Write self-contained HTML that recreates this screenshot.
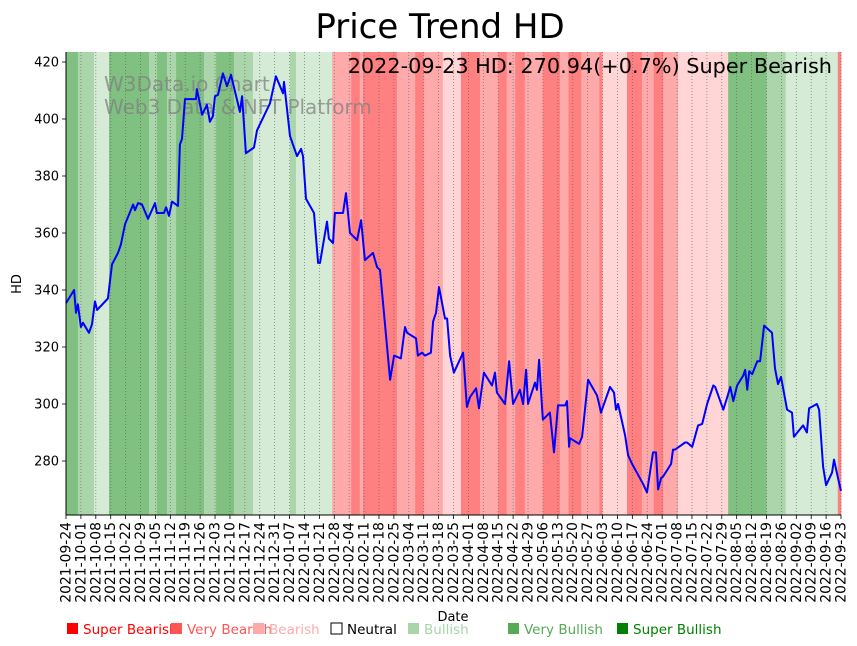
<!DOCTYPE html>
<html><head><meta charset="utf-8"><style>
body{margin:0;background:#fff;}
svg{display:block;font-family:"DejaVu Sans","Liberation Sans",sans-serif;}
</style></head><body>
<svg id="chart" width="857" height="646" viewBox="0 0 857 646" xmlns="http://www.w3.org/2000/svg">
<g id="bands"></g>
<g id="grid"></g>
<text x="104" y="91" font-size="20" fill="#808080" fill-opacity="0.75">W3Data.io Chart</text>
<text x="104" y="114" font-size="20" fill="#808080" fill-opacity="0.75">Web3 Data &amp; NFT Platform</text>
<path id="line" fill="none" stroke="#0000ff" stroke-width="2" stroke-linejoin="round"/>
<g id="axes"></g>
<text x="440" y="38" font-size="34" text-anchor="middle">Price Trend HD</text>
<text x="832" y="73" font-size="20.8" text-anchor="end">2022-09-23 HD: 270.94(+0.7%) Super Bearish</text>
<text x="21" y="284" font-size="13" text-anchor="middle" transform="rotate(-90 21 284)">HD</text>
<text x="453" y="621" font-size="13" text-anchor="middle">Date</text>
<g id="legend"></g>
</svg>
<script>
const bandStarts=[0,5.6,13.2,20.2,39,42.7,47.4,51.7,64.8,70.5,78.9,87.8,105.2,108,125,134,138,139.5,155.5,164,168,177,185.5,194.5,203,207,211,215.5,224,232,236,242,250.5,252,263.5,270.5,276,280.5,287.5,311,329,338,362.5];
const bandEnds=[5.6,13.2,20.2,39,42.7,47.4,51.7,64.8,70.5,78.9,87.8,105.2,108,125,134,138,139.5,155.5,164,168,177,185.5,194.5,203,207,211,215.5,224,232,236,242,250.5,252,263.5,270.5,276,280.5,287.5,311,329,338,362.5,364];
const bandCats=["VB","B","L","VB","B","VB","B","VB","B","VB","B","L","B","L","Br","VBr","Br","VBr","Br","VBr","Br","LR","VBr","Br","VBr","Br","VBr","Br","VBr","Br","VBr","Br","VBr","LR","VBr","Br","VBr","Br","LR","VB","B","L","VBr"];
const days=[0,3.8,4.7,5.6,7,8,10.8,12.2,13.6,14.6,19.7,21.6,24.4,25.8,27.7,31.5,32.4,33.8,35.7,38.5,41.8,42.7,46,47,48.4,49.8,52.6,53.5,54.5,55.9,61,61.5,63.9,66.2,67.6,69,70,71.4,73.7,75.6,77.5,81.7,82.7,84.5,88.3,89.7,95.8,98.6,101.9,102.4,105.2,108.5,110.4,111.3,112.7,116.5,118.4,119.3,122.6,123.5,125.4,126.3,130.1,131.5,133.4,136.7,138.6,140.4,144.2,146.1,147.5,152.2,154.1,157.3,159.2,160.2,164.4,165.3,167.2,168.6,171.4,172.4,173.8,175.2,178,179,180.4,182.2,186.5,188.3,189.8,192.6,194,196.3,200.1,201.5,202.4,206.2,208.1,210,213.2,214.7,216.1,217,220.3,221.2,222.2,223.6,224,227.3,229.2,231.1,234.4,235.3,236.3,236.7,241,242.4,245.2,249.4,250.4,251.3,255.5,257.4,258.3,259.3,262.6,264,265.9,271,272.9,275.7,277.1,278.1,279.5,280.4,284.2,285.1,286.1,290.8,291.7,294.1,296.9,298.8,301.1,304,304.9,308.7,310.6,312,313.4,315.2,318.1,319,320,320.9,322.3,324.7,326,327.9,331.6,333,334.4,335.8,338.7,341,341.9,346.2,348,349,352.7,353.7,355.6,357,359.8,360.7,362.6,364];
const prices=[335.4,340,332,335,327,328.5,325,328,336,333,337,349,353,356,363,370,368,370.5,370,365,370.5,367,367,369,366,371,369.5,391,393,407,407,410.5,401.5,405,399,401,408,408.5,416,411.5,415.5,402.5,408,388,390,396,405.5,415,409,413,394,387,389.5,387,372,367,349.5,349.5,364,358,356.5,367,367,374,360,357.5,364.5,350.5,353,348,347,308.5,317,316,327,325,323,317,318,317,318,329,332,341,330,330,317,311,318,299,302.5,305.5,298.5,311,306.5,311,304,300,315,300,305,300,312,300,307.5,305,315.5,298.5,294.5,297,283,299.5,299.5,301,285,288,286,288.5,308.5,303,300,297,306,304,298,300,289,282,279,272,269,283,283,270,274,274.5,279,284,284,286.5,286.5,285,292.5,293,300,306.5,306,298,302.5,306,301,306.5,310,312,305,311.5,310.5,315,315,327.5,325,312.5,307,309.5,298,297,288.5,292.5,290,298.5,300,298,278,271.5,276,280.5,274,269.5,271];
const yTicks=[280,300,320,340,360,380,400,420];
const startDate=new Date(Date.UTC(2021,8,24));

const NS="http://www.w3.org/2000/svg";
const X0=66,X1=841,Y0=52,Y1=515;
const xS=d=>X0+d*(X1-X0)/364;
const yS=v=>461-(v-280)*2.85;
const colors={VB:"#80c080",B:"#abd5ab",L:"#d5ebd5",VBr:"#ff8080",Br:"#ffaaaa",LR:"#ffd5d5"};
function mk(tag,attrs,parent){const e=document.createElementNS(NS,tag);for(const k in attrs)e.setAttribute(k,attrs[k]);parent.appendChild(e);return e;}
const bands=document.getElementById('bands');
for(let i=0;i<bandStarts.length;i++){
  const r=mk('rect',{x:xS(bandStarts[i]),y:Y0,width:xS(bandEnds[i])-xS(bandStarts[i])+0.3,height:Y1-Y0,fill:colors[bandCats[i]]},bands);
  
  
}
const grid=document.getElementById('grid'),axes=document.getElementById('axes');
for(let w=0;w<=52;w++){
  const d=w*7,x=xS(d);
  const gl=mk('line',{x1:x,x2:x,y1:Y0,y2:Y1,stroke:"#555",'stroke-width':0.8,'stroke-dasharray':"1,2",'stroke-opacity':0.7},grid);
  
  
  mk('line',{x1:x,x2:x,y1:Y1,y2:Y1+4,stroke:"#000",'stroke-width':0.8},axes);
  const dt=new Date(startDate.getTime()+d*86400000);
  const s=dt.toISOString().slice(0,10);
  const t=mk('text',{x:x+4.5,y:Y1+7,'font-size':13.9,'text-anchor':'end',transform:`rotate(-90 ${x+4.5} ${Y1+7})`},axes);
  t.textContent=s;
  
  
}
yTicks.forEach(v=>{
  const y=yS(v);
  mk('line',{x1:X0-4,x2:X0,y1:y,y2:y,stroke:"#000",'stroke-width':0.8},axes);
  const t=mk('text',{x:X0-7,y:y+4.5,'font-size':13,'text-anchor':'end'},axes);
  t.textContent=v;
  
  
});
mk('line',{x1:X0,x2:X0,y1:Y0,y2:Y1,stroke:"#000",'stroke-width':1},axes);
mk('line',{x1:X0,x2:X1,y1:Y1,y2:Y1,stroke:"#000",'stroke-width':1},axes);
document.getElementById('line').setAttribute('d',days.map((d,i)=>(i?'L':'M')+xS(d).toFixed(1)+','+yS(prices[i]).toFixed(1)).join(''));
const legNames=["Super Bearish","Very Bearish","Bearish","Neutral","Bullish","Very Bullish","Super Bullish"];
const legColors=["#ff0000","#ff5555","#ffaaaa","#ffffff","#aad4aa","#55aa55","#008000"];
const legText=["#ff0000","#ff5555","#ffaaaa","#000000","#aad4aa","#55aa55","#008000"];
const legX=[66,170,252,330,407,507,616];
const leg=document.getElementById('legend');
legNames.forEach((n,i)=>{
  const g=mk('g',{},leg);
  
  
  mk('rect',{x:legX[i]+1,y:623,width:11,height:11,fill:legColors[i],stroke:i==3?"#000":"none",'stroke-width':1},g);
  const t=mk('text',{x:legX[i]+17,y:634,'font-size':13.5,fill:legText[i]},g);
  t.textContent=n;
});
</script>
</body></html>
